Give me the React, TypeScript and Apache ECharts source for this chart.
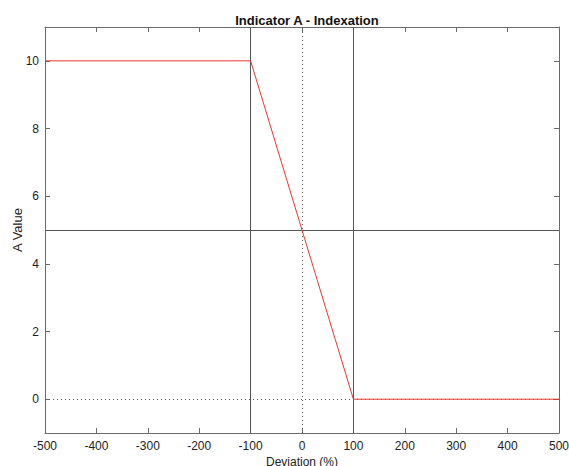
import React, { useEffect, useRef } from "react";
import * as echarts from "echarts";

const lineX = [-500, -100, 100, 500];
const lineY = [10, 10, 0, 0];
const xTicks = [-500, -400, -300, -200, -100, 0, 100, 200, 300, 400, 500];
const yTicks = [0, 2, 4, 6, 8, 10];
const solidVLines = [-100, 100];
const dottedVLines = [0];
const solidHLines = [5];
const dottedHLines = [0];

export default function App() {
  const ref = useRef<HTMLDivElement>(null);
  useEffect(() => {
    if (!ref.current) return;
    const chart = echarts.init(ref.current, null, { renderer: "svg" });
    const font = "Liberation Sans, Arial, Helvetica, sans-serif";
    const axisColor = "#6b6b6b";
    const refColor = "#555";
    const tickStyle = { show: true, inside: true, length: 5, lineStyle: { color: axisColor } };
    const axisLine = { show: true, onZero: false, lineStyle: { color: axisColor } };
    const markData: any[] = [
      ...solidVLines.map((v) => ({ xAxis: v, lineStyle: { type: "solid" } })),
      ...dottedVLines.map((v) => ({ xAxis: v, lineStyle: { type: [1, 3] } })),
      ...solidHLines.map((v) => ({ yAxis: v, lineStyle: { type: "solid" } })),
      ...dottedHLines.map((v) => ({ yAxis: v, lineStyle: { type: [1, 3] } })),
    ];
    chart.setOption({
      animation: false,
      backgroundColor: "#fff",
      textStyle: { fontFamily: font },
      title: {
        text: "Indicator A - Indexation",
        left: 302,
        textAlign: "center",
        top: 9,
        textStyle: { fontSize: 13, fontWeight: "bold", color: "#111", fontFamily: font },
      },
      grid: { left: 45, right: 10, top: 27, bottom: 33, outerBoundsMode: "none", containLabel: false },
      xAxis: [
        {
          type: "value",
          min: -500,
          max: 500,
          interval: 100,
          position: "bottom",
          name: "Deviation (%)",
          nameLocation: "middle",
          nameGap: 23,
          nameMoveOverlap: false,
          nameTextStyle: { fontSize: 12, color: "#222", fontFamily: font },
          axisLine,
          axisTick: { ...tickStyle, customValues: xTicks },
          axisLabel: { fontSize: 12, color: "#222", margin: 7, fontFamily: font, customValues: xTicks },
          splitLine: { show: false },
        },
        {
          type: "value",
          min: -500,
          max: 500,
          interval: 100,
          position: "top",
          axisLine,
          axisTick: { ...tickStyle, customValues: xTicks },
          axisLabel: { show: false },
          splitLine: { show: false },
        },
      ],
      yAxis: [
        {
          type: "value",
          min: -1,
          max: 11,
          position: "left",
          name: "A Value",
          nameLocation: "middle",
          nameGap: 21,
          nameMoveOverlap: false,
          nameTextStyle: { fontSize: 13, color: "#222", fontFamily: font },
          axisLine,
          axisTick: { ...tickStyle, customValues: yTicks },
          axisLabel: { fontSize: 12, color: "#222", margin: 6, customValues: yTicks, fontFamily: font },
          splitLine: { show: false },
        },
        {
          type: "value",
          min: -1,
          max: 11,
          position: "right",
          axisLine,
          axisTick: { ...tickStyle, customValues: yTicks },
          axisLabel: { show: false, customValues: yTicks },
          splitLine: { show: false },
        },
      ],
      series: [
        {
          type: "line",
          xAxisIndex: 0,
          yAxisIndex: 0,
          data: lineX.map((x, i) => [x, lineY[i]]),
          symbol: "none",
          lineStyle: { color: "#e8382f", width: 1 },
          z: 5,
          markLine: {
            silent: true,
            symbol: "none",
            label: { show: false },
            lineStyle: { color: refColor, width: 1 },
            data: markData,
            z: 1,
          },
        },
      ],
    });
    return () => chart.dispose();
  }, []);
  return (
    <div
      ref={ref}
      style={{ position: "fixed", left: 0, top: 0, width: 569, height: 466 }}
    />
  );
}
